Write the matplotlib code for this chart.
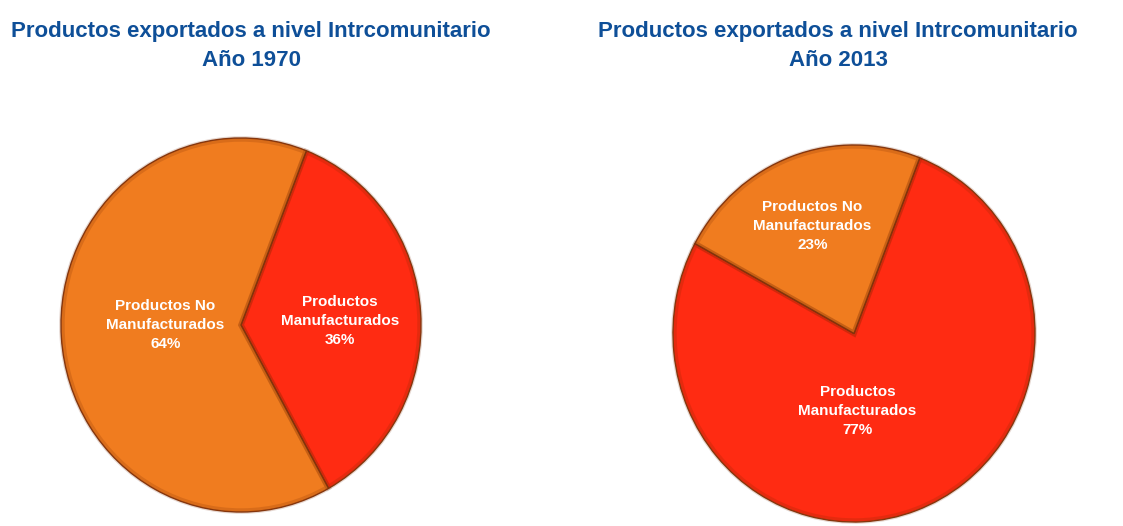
import matplotlib
matplotlib.use("Agg")
import matplotlib.pyplot as plt

plt.rcParams['font.family'] = ['Liberation Sans', 'DejaVu Sans']

titles = ["Productos exportados a nivel Intrcomunitario\nAño 1970",
          "Productos exportados a nivel Intrcomunitario\nAño 2013"]
categories = ["Productos\nManufacturados", "Productos No\nManufacturados"]
values_1970 = [36, 64]
values_2013 = [77, 23]

RED = "#FF2B12"
ORANGE = "#F07C1F"
TITLE_C = "#0E4F98"

W, H = 1123, 526
fig = plt.figure(figsize=(W / 100, H / 100), dpi=100)
fig.patch.set_facecolor("white")


def box(left, top, w, h):
    return [left / W, (H - top - h) / H, w / W, h / H]


def draw(rect, values, start, label_pos):
    ax = fig.add_axes(rect)
    wedges, _ = ax.pie(values, colors=[RED, ORANGE], startangle=start,
                       counterclock=False, radius=1.0,
                       wedgeprops=dict(edgecolor="#8A3A10", linewidth=1.0))
    # soft darker rim, like the original's bevel shading
    ax.pie(values, colors=["none", "none"], startangle=start, counterclock=False,
           radius=0.995, wedgeprops=dict(edgecolor=(0.45, 0.15, 0.0, 0.18),
                                         linewidth=4, fill=False))
    ax.set_aspect("auto")
    ax.set_xlim(-1.0, 1.0)
    ax.set_ylim(-1.0, 1.0)
    ax.axis("off")
    for cat, v, (x, y) in zip(categories, values, label_pos):
        ax.text(x, y, f"{cat}\n{v}%", ha="center", va="center", color="white",
                fontsize=11, fontweight="bold", linespacing=1.45)
    return ax


draw(box(61, 138, 360, 374), values_1970, 68.7, [(0.55, 0.02), (-0.42, 0.0)])
draw(box(673, 145, 362, 377), values_2013, 68.7, [(0.02, -0.41), (-0.23, 0.57)])

fig.text(251 / W, 1 - 46.5 / H, titles[0], ha="center", va="center", color=TITLE_C,
         fontsize=16, fontweight="bold", linespacing=1.5)
fig.text(838 / W, 1 - 46.5 / H, titles[1], ha="center", va="center", color=TITLE_C,
         fontsize=16, fontweight="bold", linespacing=1.5)

fig.savefig("out.png", dpi=100, facecolor="white")
